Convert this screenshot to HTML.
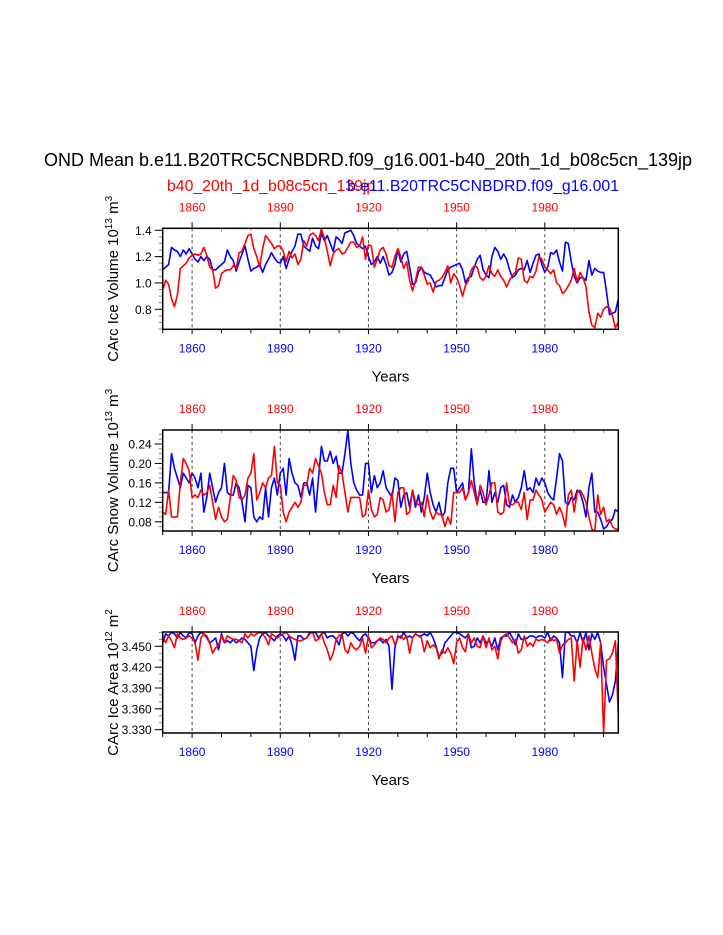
<!DOCTYPE html>
<html><head><meta charset="utf-8"><style>
html,body{margin:0;padding:0;background:#fff;}
svg{display:block;font-family:"Liberation Sans",Arial,sans-serif;}
</style></head><body>
<svg id="chart" width="723" height="935" viewBox="0 0 723 935" xmlns="http://www.w3.org/2000/svg">
<text x="368" y="166" font-size="18" text-anchor="middle">OND Mean b.e11.B20TRC5CNBDRD.f09_g16.001-b40_20th_1d_b08c5cn_139jp</text>
<text x="167" y="191" font-size="15.8" fill="#f00">b40_20th_1d_b08c5cn_139jp</text>
<text x="619" y="191" font-size="15.8" fill="#00f" text-anchor="end">b.e11.B20TRC5CNBDRD.f09_g16.001</text>
</svg>
<script>
const years = [];
for (let y = 1850; y <= 2005; y++) years.push(y);
const xTickLabels = [1860, 1890, 1920, 1950, 1980];

const iceVolBlue = [1.10,1.12,1.14,1.27,1.25,1.24,1.20,1.25,1.22,1.26,1.22,1.18,1.16,1.20,1.17,1.20,1.18,1.10,1.10,1.12,1.14,1.16,1.25,1.20,1.17,1.09,1.16,1.22,1.28,1.18,1.09,1.11,1.12,1.14,1.08,1.14,1.18,1.23,1.19,1.16,1.15,1.20,1.11,1.18,1.24,1.28,1.37,1.37,1.28,1.26,1.24,1.34,1.28,1.26,1.38,1.32,1.36,1.30,1.24,1.35,1.33,1.30,1.38,1.39,1.40,1.36,1.30,1.28,1.26,1.28,1.20,1.14,1.16,1.20,1.15,1.20,1.14,1.06,1.08,1.14,1.25,1.16,1.22,1.24,1.12,0.99,1.00,1.08,1.12,1.08,1.07,1.06,1.02,0.97,0.98,0.98,1.04,1.10,1.12,1.13,1.14,1.15,1.10,1.00,1.04,1.05,1.12,1.18,1.21,1.10,1.06,1.04,1.20,1.27,1.24,1.18,1.22,1.18,1.10,1.04,1.06,1.10,1.11,1.10,1.17,1.08,1.15,1.21,1.22,1.14,1.08,1.12,1.23,1.22,1.25,1.16,1.09,1.31,1.30,1.16,1.05,1.00,1.04,1.04,1.02,1.17,1.06,1.11,1.09,1.08,1.08,0.93,0.76,0.77,0.78,0.88];
const iceVolRed = [0.95,1.02,0.99,0.88,0.82,0.91,1.11,1.13,1.15,1.19,1.21,1.22,1.21,1.22,1.27,1.21,1.12,1.10,0.96,0.98,1.07,1.09,1.10,1.10,1.13,1.11,1.23,1.24,1.30,1.36,1.37,1.26,1.20,1.12,1.26,1.36,1.33,1.30,1.26,1.28,1.28,1.24,1.16,1.24,1.19,1.22,1.14,1.18,1.32,1.28,1.36,1.38,1.36,1.32,1.41,1.34,1.24,1.13,1.22,1.25,1.26,1.22,1.23,1.27,1.31,1.31,1.27,1.28,1.35,1.18,1.29,1.28,1.12,1.18,1.25,1.27,1.22,1.13,1.12,1.20,1.26,1.20,1.11,1.16,1.02,0.94,1.02,1.12,1.12,1.06,0.99,1.00,0.93,1.01,1.02,1.04,1.08,1.13,1.00,1.07,1.04,0.98,0.90,0.98,1.02,1.10,1.13,1.12,1.04,1.02,1.05,1.13,1.07,1.05,1.10,1.05,1.02,0.97,1.02,1.06,1.08,1.19,1.18,1.02,1.00,1.05,1.04,1.09,1.20,1.18,1.12,1.10,1.07,1.10,1.00,0.98,0.92,0.94,0.98,1.02,1.11,1.01,1.08,1.04,0.97,0.78,0.68,0.66,0.77,0.74,0.80,0.82,0.81,0.75,0.66,0.70];

const snowBlue = [0.14,0.14,0.14,0.22,0.19,0.17,0.15,0.18,0.17,0.16,0.18,0.17,0.15,0.18,0.10,0.13,0.18,0.15,0.12,0.14,0.15,0.20,0.14,0.135,0.135,0.16,0.15,0.12,0.08,0.155,0.15,0.09,0.08,0.09,0.085,0.15,0.09,0.15,0.17,0.135,0.18,0.19,0.135,0.21,0.18,0.16,0.155,0.13,0.16,0.16,0.135,0.17,0.10,0.17,0.235,0.205,0.205,0.225,0.20,0.215,0.18,0.18,0.22,0.268,0.20,0.16,0.145,0.135,0.135,0.20,0.20,0.14,0.175,0.15,0.16,0.185,0.15,0.14,0.13,0.17,0.165,0.11,0.135,0.14,0.11,0.145,0.11,0.135,0.10,0.13,0.18,0.14,0.115,0.10,0.12,0.09,0.10,0.16,0.19,0.19,0.14,0.15,0.16,0.125,0.14,0.23,0.16,0.12,0.145,0.12,0.12,0.185,0.12,0.14,0.12,0.15,0.155,0.115,0.11,0.135,0.12,0.13,0.15,0.185,0.145,0.15,0.14,0.17,0.155,0.17,0.16,0.14,0.13,0.125,0.17,0.22,0.205,0.12,0.115,0.13,0.125,0.145,0.14,0.12,0.09,0.15,0.18,0.10,0.10,0.085,0.065,0.07,0.08,0.085,0.105,0.10];
const snowRed = [0.10,0.095,0.145,0.09,0.09,0.09,0.16,0.21,0.20,0.185,0.13,0.135,0.13,0.145,0.135,0.14,0.155,0.12,0.085,0.11,0.09,0.08,0.085,0.13,0.175,0.165,0.13,0.125,0.135,0.17,0.18,0.22,0.125,0.14,0.16,0.15,0.17,0.175,0.235,0.16,0.155,0.10,0.08,0.10,0.11,0.12,0.11,0.12,0.155,0.155,0.19,0.18,0.21,0.195,0.18,0.14,0.115,0.115,0.155,0.13,0.195,0.18,0.14,0.10,0.13,0.13,0.13,0.13,0.09,0.095,0.145,0.105,0.09,0.095,0.13,0.125,0.10,0.105,0.14,0.08,0.14,0.15,0.15,0.095,0.10,0.145,0.12,0.115,0.12,0.09,0.135,0.10,0.085,0.10,0.095,0.095,0.07,0.09,0.075,0.14,0.14,0.14,0.15,0.125,0.14,0.165,0.14,0.115,0.155,0.14,0.115,0.135,0.16,0.16,0.10,0.095,0.10,0.16,0.115,0.115,0.12,0.12,0.105,0.14,0.085,0.125,0.125,0.145,0.135,0.125,0.10,0.11,0.12,0.115,0.095,0.11,0.095,0.07,0.135,0.145,0.10,0.14,0.145,0.135,0.12,0.09,0.065,0.06,0.135,0.095,0.11,0.08,0.085,0.07,0.065,0.065];

const areaBlue = [3.455,3.468,3.465,3.470,3.468,3.462,3.470,3.465,3.462,3.470,3.468,3.455,3.465,3.470,3.468,3.462,3.455,3.458,3.462,3.445,3.468,3.455,3.458,3.455,3.460,3.455,3.458,3.462,3.460,3.455,3.450,3.415,3.445,3.462,3.468,3.470,3.465,3.462,3.458,3.465,3.468,3.465,3.458,3.465,3.452,3.430,3.465,3.465,3.460,3.462,3.470,3.470,3.470,3.462,3.468,3.470,3.462,3.465,3.465,3.460,3.452,3.468,3.470,3.465,3.470,3.468,3.462,3.458,3.465,3.468,3.462,3.455,3.455,3.458,3.460,3.455,3.460,3.450,3.388,3.448,3.465,3.462,3.470,3.462,3.465,3.462,3.468,3.465,3.465,3.468,3.465,3.470,3.462,3.450,3.435,3.440,3.455,3.460,3.465,3.470,3.470,3.468,3.465,3.462,3.468,3.448,3.450,3.462,3.455,3.465,3.455,3.458,3.450,3.462,3.445,3.462,3.465,3.465,3.470,3.462,3.452,3.468,3.460,3.460,3.462,3.465,3.465,3.462,3.465,3.465,3.462,3.470,3.458,3.465,3.462,3.455,3.405,3.470,3.470,3.465,3.465,3.455,3.470,3.455,3.470,3.445,3.468,3.460,3.470,3.455,3.420,3.395,3.370,3.380,3.400,3.455];
const areaRed = [3.465,3.455,3.465,3.458,3.448,3.468,3.462,3.460,3.462,3.465,3.462,3.455,3.430,3.462,3.468,3.465,3.455,3.440,3.448,3.452,3.465,3.455,3.465,3.462,3.460,3.460,3.458,3.455,3.468,3.462,3.468,3.465,3.468,3.470,3.468,3.462,3.452,3.468,3.465,3.462,3.465,3.468,3.470,3.465,3.462,3.460,3.458,3.458,3.460,3.462,3.468,3.470,3.458,3.460,3.468,3.455,3.445,3.430,3.440,3.460,3.465,3.468,3.445,3.440,3.455,3.448,3.445,3.450,3.462,3.440,3.465,3.448,3.452,3.458,3.462,3.460,3.455,3.462,3.465,3.452,3.462,3.465,3.460,3.465,3.440,3.462,3.468,3.465,3.462,3.442,3.458,3.448,3.452,3.448,3.432,3.445,3.440,3.448,3.440,3.425,3.455,3.462,3.448,3.442,3.468,3.455,3.462,3.450,3.448,3.465,3.448,3.462,3.445,3.450,3.432,3.458,3.465,3.468,3.462,3.455,3.460,3.440,3.445,3.465,3.450,3.455,3.450,3.460,3.458,3.460,3.458,3.455,3.462,3.458,3.460,3.440,3.452,3.455,3.460,3.462,3.400,3.458,3.420,3.462,3.445,3.465,3.440,3.418,3.405,3.455,3.325,3.430,3.432,3.440,3.458,3.350];

const tick1 = ["0.8","1.0","1.2","1.4"];
const tick2 = ["0.08","0.12","0.16","0.20","0.24"];
const tick3 = ["3.330","3.360","3.390","3.420","3.450"];

const svg = document.getElementById('chart');
const NS = 'http://www.w3.org/2000/svg';
const X0 = 162.7, X1 = 618.3, YR0 = 1850, YR1 = 2005;
function xs(yr){ return X0 + (yr - YR0) * (X1 - X0) / (YR1 - YR0); }
function mk(tag, attrs){ const e = document.createElementNS(NS, tag); for (const k in attrs) e.setAttribute(k, attrs[k]); return e; }

const panels = [
  {key:'ice-volume', top:228.3, bot:329.3, vmin:0.648, vmax:1.415, ticks:tick1, minor:0.05, labelMain:'CArc Ice Volume 10', exp1:'13', unit:' m', exp2:'3', blue:iceVolBlue, red:iceVolRed},
  {key:'snow-volume', top:430, bot:531, vmin:0.061, vmax:0.2688, ticks:tick2, minor:0.01, labelMain:'CArc Snow Volume 10', exp1:'13', unit:' m', exp2:'3', blue:snowBlue, red:snowRed},
  {key:'ice-area', top:632, bot:733, vmin:3.3252, vmax:3.4706, ticks:tick3, minor:0.01, labelMain:'CArc Ice Area 10', exp1:'12', unit:' m', exp2:'2', blue:areaBlue, red:areaRed}
];

panels.forEach(p => {
  const ys = v => p.bot - (v - p.vmin) * (p.bot - p.top) / (p.vmax - p.vmin);
  const g = mk('g', {});
  
  
  svg.appendChild(g);
  const clipId = 'clip-' + p.key;
  const cp = mk('clipPath', {id: clipId});
  cp.appendChild(mk('rect', {x: X0, y: p.top, width: X1 - X0, height: p.bot - p.top}));
  g.appendChild(cp);
  xTickLabels.forEach(yr => {
    const l = mk('line', {x1: xs(yr), x2: xs(yr), y1: p.top, y2: p.bot, stroke: '#444', 'stroke-width': 1, 'stroke-dasharray': '3,3'});
    
    
    g.appendChild(l);
  });
  for (let yr = 1850; yr <= 2005; yr += 10) {
    const major = xTickLabels.includes(yr);
    g.appendChild(mk('line', {x1: xs(yr), x2: xs(yr), y1: p.bot, y2: p.bot + (major ? 5 : 4), stroke: '#000', 'stroke-width': 1}));
    g.appendChild(mk('line', {x1: xs(yr), x2: xs(yr), y1: p.top, y2: p.top - (major ? 6 : 0), stroke: '#000', 'stroke-width': 1}));
    if (!major) g.appendChild(mk('line', {x1: xs(yr), x2: xs(yr), y1: p.top, y2: p.top + 3, stroke: '#999', 'stroke-width': 1}));
  }
  xTickLabels.forEach(yr => {
    const b = mk('text', {x: xs(yr), y: p.bot + 23, 'font-size': 12, fill: '#00f', 'text-anchor': 'middle'});
    b.textContent = yr;
    
    
    g.appendChild(b);
    const t = mk('text', {x: xs(yr), y: p.top - 17, 'font-size': 12, fill: '#f00', 'text-anchor': 'middle'});
    t.textContent = yr;
    
    
    g.appendChild(t);
  });
  for (let v = Math.ceil(p.vmin / p.minor) * p.minor; v <= p.vmax; v += p.minor) {
    g.appendChild(mk('line', {x1: X0 - 4, x2: X0, y1: ys(v), y2: ys(v), stroke: '#888', 'stroke-width': 1}));
  }
  p.ticks.forEach(tl => {
    const v = parseFloat(tl);
    g.appendChild(mk('line', {x1: X0 - 8, x2: X0, y1: ys(v), y2: ys(v), stroke: '#000', 'stroke-width': 1}));
    const t = mk('text', {x: X0 - 11, y: ys(v) + 4.5, 'font-size': 12, 'text-anchor': 'end'});
    t.textContent = tl;
    
    
    g.appendChild(t);
  });
  [['blue', p.blue, '#00f'], ['red', p.red, '#f00']].forEach(([nm, arr, col]) => {
    const d = arr.map((v, i) => (i ? 'L' : 'M') + xs(years[i]).toFixed(2) + ',' + ys(v).toFixed(2)).join('');
    const path = mk('path', {d: d, fill: 'none', stroke: col, 'stroke-width': 1.6, 'stroke-linejoin': 'round', 'clip-path': 'url(#' + clipId + ')'});
    
    
    g.appendChild(path);
  });
  const box = mk('rect', {x: X0, y: p.top, width: X1 - X0, height: p.bot - p.top, fill: 'none', stroke: '#000', 'stroke-width': 1.5});
  
  
  g.appendChild(box);
  const xt = mk('text', {x: (X0 + X1) / 2, y: p.bot + 52, 'font-size': 15, 'text-anchor': 'middle'});
  xt.textContent = 'Years';
  
  
  g.appendChild(xt);
  const cy = (p.top + p.bot) / 2;
  const yt = mk('text', {x: 0, y: 0, 'font-size': 15, 'text-anchor': 'middle', transform: 'translate(118,' + cy + ') rotate(-90)'});
  
  
  const s1 = mk('tspan', {}); s1.textContent = p.labelMain; yt.appendChild(s1);
  const s2 = mk('tspan', {dy: -6, 'font-size': 10}); s2.textContent = p.exp1; yt.appendChild(s2);
  const s3 = mk('tspan', {dy: 6}); s3.textContent = p.unit; yt.appendChild(s3);
  const s4 = mk('tspan', {dy: -6, 'font-size': 10}); s4.textContent = p.exp2; yt.appendChild(s4);
  g.appendChild(yt);
});
</script>
</body></html>
